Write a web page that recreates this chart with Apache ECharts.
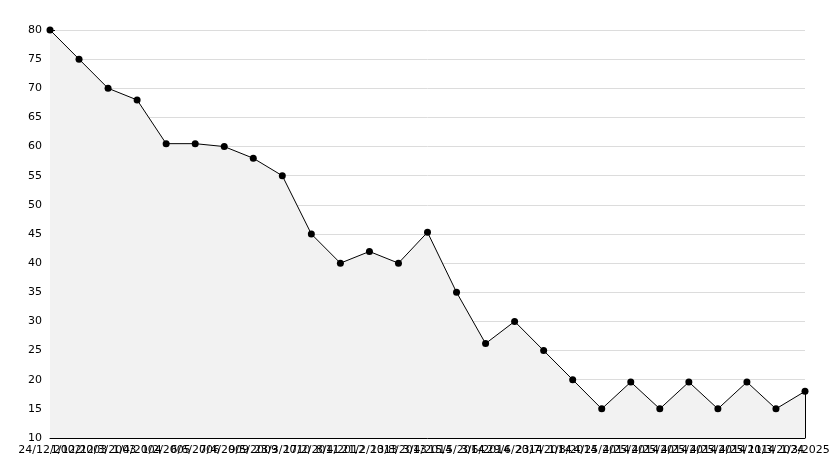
<!DOCTYPE html>
<html>
<head>
<meta charset="utf-8">
<script src="https://cdn.jsdelivr.net/npm/echarts@6/dist/echarts.min.js"></script>
<style>html,body{margin:0;padding:0;background:#fff}#c{width:834px;height:468px}</style>
</head>
<body>
<div id="c"></div>
<script>
var categories = ["24/12/2002","1/12/2003","12/3/2003","1/4/2004","1/2/2005","6/6/2006","7/4/2009","9/5/2009","23/3/2010","17/2/2011","8/4/2012","21/2/2013","13/8/2013","3/4/2014","15/5/2014","3/6/2014","29/6/2014","23/7/2014","1/8/2014","4/25/2014","4/25/2014","4/25/2014","4/25/2014","4/25/2014","4/25/2014","11/3/2024","1/3/2025"];
var values = [80,75,70,68,60.5,60.5,60,58,55,45,40,42,40,45.3,35,26.2,30,25,20,15,19.6,15,19.6,15,19.6,15,18];
var yMin = 10, yMax = 80, yInterval = 5;

var chart = echarts.init(document.getElementById('c'), null, {renderer:'canvas'});
chart.setOption({
  animation:false,
  backgroundColor:'#fff',
  grid:{left:50,right:29,top:30,bottom:30,containLabel:false},
  xAxis:{
    type:'category', data:categories, boundaryGap:false,
    axisLine:{lineStyle:{color:'#000',width:1}},
    axisTick:{inside:true,length:5,lineStyle:{color:'#000'},alignWithLabel:true},
    axisLabel:{interval:0,hideOverlap:false,color:'#000',fontFamily:'DejaVu Sans',fontSize:11,margin:7},
    splitLine:{show:false}
  },
  yAxis:{
    type:'value', min:yMin, max:yMax, interval:yInterval,
    axisLine:{show:true,lineStyle:{color:'#000',width:1}},
    axisTick:{show:true,inside:true,length:5,lineStyle:{color:'#000'}},
    minorTick:{show:true,splitNumber:5,length:4,lineStyle:{color:'#000'}},
    axisLabel:{color:'#000',fontFamily:'DejaVu Sans',fontSize:11,margin:8},
    splitLine:{show:true,lineStyle:{color:'#dcdcdc',width:1}}
  },
  series:[{
    type:'line', data:values,
    symbol:'circle', symbolSize:7,
    itemStyle:{color:'#000'},
    lineStyle:{color:'#000',width:1},
    areaStyle:{color:'#f2f2f2',opacity:1},
    markLine:{
      silent:true, symbol:['none','none'], label:{show:false},
      lineStyle:{color:'#000',width:1,type:'solid'},
      data:[[{coord:[categories.length-1,yMin]},{coord:[categories.length-1,values[values.length-1]]}]]
    }
  }]
});
</script>
</body>
</html>
